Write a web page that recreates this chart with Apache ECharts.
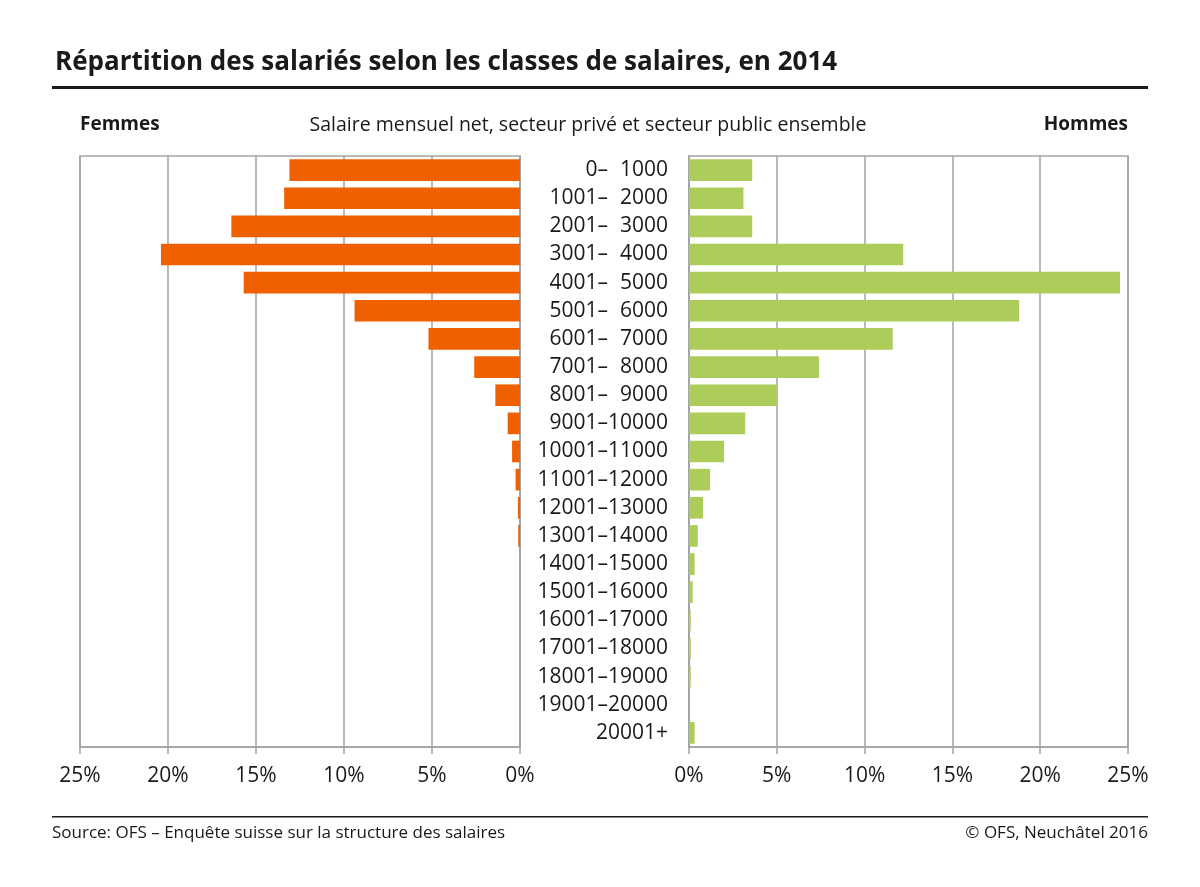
<!DOCTYPE html>
<html>
<head>
<meta charset="utf-8">
<script src="https://cdn.jsdelivr.net/npm/echarts@6/dist/echarts.min.js"></script>
<style>html,body{margin:0;padding:0;background:#fff}#c{width:1200px;height:887px}</style>
</head>
<body>
<div id="c"></div>
<script>
const categories = ['0–\u20071000','1001–\u20072000','2001–\u20073000','3001–\u20074000','4001–\u20075000','5001–\u20076000','6001–\u20077000','7001–\u20078000','8001–\u20079000','9001–10000','10001–11000','11001–12000','12001–13000','13001–14000','14001–15000','15001–16000','16001–17000','17001–18000','18001–19000','19001–20000','20001+'];
const femmes = [13.1,13.4,16.4,20.4,15.7,9.4,5.2,2.6,1.4,0.7,0.45,0.25,0.12,0.1,0,0,0,0,0,0,0];
const hommes = [3.6,3.1,3.6,12.2,24.55,18.8,11.6,7.4,5.0,3.2,2.0,1.2,0.8,0.5,0.32,0.21,0.1,0.1,0.1,0,0.32];
const xTicks = [0,5,10,15,20,25];

const FONT = 'Open Sans';
const GRID_COLOR = '#a3a3a3';
const chart = echarts.init(document.getElementById('c'));
const xAxisCommon = {
  type: 'value', min: xTicks[0], max: xTicks[xTicks.length - 1], interval: 5,
  axisLine: {show: true, lineStyle: {color: GRID_COLOR, width: 1.5}},
  axisTick: {show: true, length: 7, lineStyle: {color: GRID_COLOR, width: 1.5}},
  splitLine: {show: true, lineStyle: {color: GRID_COLOR, width: 1.5}},
  axisLabel: {formatter: v => v + '%', color: '#1a1a1a', fontSize: 21, fontFamily: FONT, margin: 19}
};
chart.setOption({
  animation: false,
  textStyle: {fontFamily: FONT},
  title: {
    text: 'Répartition des salariés selon les classes de salaires, en 2014',
    left: 50, top: 45,
    textStyle: {fontFamily: FONT, fontWeight: 'bold', fontSize: 26, color: '#1a1a1a'}
  },
  grid: [
    {left: 80, width: 440, top: 156, height: 591, show: true, borderColor: GRID_COLOR, borderWidth: 1.5, containLabel: false},
    {left: 689, width: 439, top: 156, height: 591, show: true, borderColor: GRID_COLOR, borderWidth: 1.5, containLabel: false}
  ],
  xAxis: [
    Object.assign({gridIndex: 0, inverse: true}, xAxisCommon),
    Object.assign({gridIndex: 1}, xAxisCommon)
  ],
  yAxis: [
    {gridIndex: 0, type: 'category', data: categories, inverse: true, position: 'right',
     axisLine: {show: true, lineStyle: {color: GRID_COLOR, width: 1.5}}, axisTick: {show: false}, axisLabel: {show: false}},
    {gridIndex: 1, type: 'category', data: categories, inverse: true, position: 'left',
     axisLine: {show: true, lineStyle: {color: GRID_COLOR, width: 1.5}}, axisTick: {show: false},
     axisLabel: {color: '#1a1a1a', fontSize: 21, fontFamily: FONT, margin: 21}}
  ],
  series: [
    {type: 'bar', name: 'Femmes', xAxisIndex: 0, yAxisIndex: 0, data: femmes, barCategoryGap: '23%',
     itemStyle: {color: '#ef6100'}},
    {type: 'bar', name: 'Hommes', xAxisIndex: 1, yAxisIndex: 1, data: hommes, barCategoryGap: '23%',
     itemStyle: {color: '#adcd5b'}}
  ],
  graphic: [
    {type: 'rect', shape: {x: 52, y: 86, width: 1096, height: 3}, style: {fill: '#1a1a1a'}},
    {type: 'rect', shape: {x: 52, y: 816, width: 1096, height: 1.5}, style: {fill: '#1a1a1a'}},
    {type: 'text', x: 80, y: 125, style: {text: 'Femmes', font: 'bold 19px "Open Sans"', fill: '#1a1a1a', textAlign: 'left', textVerticalAlign: 'middle'}},
    {type: 'text', x: 1128, y: 125, style: {text: 'Hommes', font: 'bold 19px "Open Sans"', fill: '#1a1a1a', textAlign: 'right', textVerticalAlign: 'middle'}},
    {type: 'text', x: 588, y: 125, style: {text: 'Salaire mensuel net, secteur privé et secteur public ensemble', font: '19.5px "Open Sans"', fill: '#1a1a1a', textAlign: 'center', textVerticalAlign: 'middle'}},
    {type: 'text', x: 52, y: 833, style: {text: 'Source: OFS – Enquête suisse sur la structure des salaires', font: '17px "Open Sans"', fill: '#1a1a1a', textAlign: 'left', textVerticalAlign: 'middle'}},
    {type: 'text', x: 1148, y: 833, style: {text: '© OFS, Neuchâtel 2016', font: '17px "Open Sans"', fill: '#1a1a1a', textAlign: 'right', textVerticalAlign: 'middle'}}
  ]
});
</script>
</body>
</html>
